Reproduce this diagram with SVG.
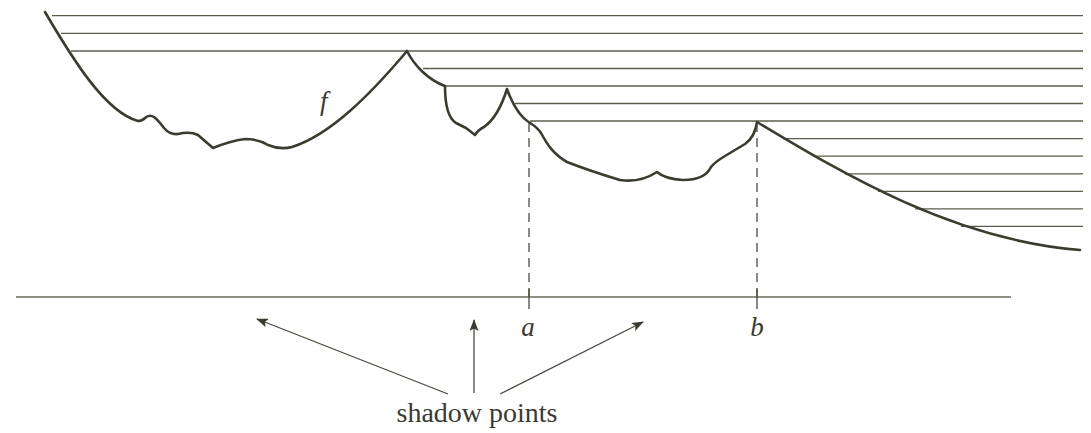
<svg xmlns="http://www.w3.org/2000/svg" width="1091" height="433" viewBox="0 0 1091 433">
<style>
.hatch{stroke:#5c5c4e;stroke-width:1.3;fill:none}
.curve{stroke:#3b3b2f;stroke-width:2.6;fill:none;stroke-linejoin:round;stroke-linecap:round}
.dash{stroke:#4a4a3e;stroke-width:1.3;stroke-dasharray:9 6;fill:none}
.axis{stroke:#6a6a5c;stroke-width:1.6;fill:none}
.tick{stroke:#4a4a3e;stroke-width:1.3}
.arrow{stroke:#4a4a3e;stroke-width:1.3;fill:none;marker-end:url(#ah)}
.lbl{font-family:"Liberation Serif","DejaVu Serif",serif;font-style:italic;fill:#3a3a30}
.cap{font-family:"Liberation Serif","DejaVu Serif",serif;fill:#3a3a30}
</style>
<defs>
<marker id="ah" viewBox="0 0 12 9" refX="11" refY="4.5" markerWidth="12" markerHeight="9" markerUnits="userSpaceOnUse" orient="auto">
<path d="M0,0 L12,4.5 L0,9 L2.5,4.5 Z" fill="#3b3b2f"/>
</marker>
</defs>
<g id="hatching">
<line class="hatch" x1="52" y1="15.7" x2="1083" y2="15.7"/>
<line class="hatch" x1="61" y1="33.3" x2="1083" y2="33.3"/>
<line class="hatch" x1="71" y1="51" x2="1083" y2="51"/>
<line class="hatch" x1="423" y1="68.5" x2="1083" y2="68.5"/>
<line class="hatch" x1="445" y1="86" x2="1083" y2="86"/>
<line class="hatch" x1="515" y1="103.5" x2="1083" y2="103.5"/>
<line class="hatch" x1="530" y1="121" x2="1083" y2="121"/>
<line class="hatch" x1="783" y1="138.7" x2="1083" y2="138.7"/>
<line class="hatch" x1="813" y1="156.2" x2="1083" y2="156.2"/>
<line class="hatch" x1="845" y1="173.8" x2="1083" y2="173.8"/>
<line class="hatch" x1="878" y1="191.3" x2="1083" y2="191.3"/>
<line class="hatch" x1="915" y1="208.8" x2="1083" y2="208.8"/>
<line class="hatch" x1="961" y1="226.3" x2="1083" y2="226.3"/>
</g>
<g id="function-f">
<path class="curve" d="M45,12 C72,58 105,112 138,121 Q142,121 145,118 Q149,114 154,117 Q158,120 164,128 Q170,135 178,134 Q190,131 198,135 L213,148 Q230,141 245,139 Q258,139 268,145 Q280,150 292,147 C330,135 370,95 407,51 C414,65 428,80 445,86 C445,105 448,118 456,123 Q462,126 466,128 Q470,131 475,135 Q478,130 484,127 C494,120 502,105 507,89 C512,103 520,117 530,123 Q537,127 541,133 C547,144 553,154 567,162 Q590,171 620,180 Q640,183 657,172 Q665,179 683,180 Q705,180 711,167 Q715,162 725,156 L745,144 Q755,137 757,122 C845,175 955,240 1080,250"/>
<text class="lbl" x="320" y="110" font-size="27">f</text>
</g>
<g id="axis">
<line class="axis" x1="16" y1="297" x2="1011" y2="297"/>
<line class="tick" x1="529" y1="289" x2="529" y2="309"/>
<line class="tick" x1="757" y1="289" x2="757" y2="309"/>
</g>
<g id="connectors">
<line class="dash" x1="529" y1="123" x2="529" y2="297"/>
<line class="dash" x1="757" y1="123" x2="757" y2="297"/>
<line class="arrow" x1="448" y1="394" x2="257" y2="319"/>
<line class="arrow" x1="474" y1="393" x2="474" y2="320"/>
<line class="arrow" x1="500" y1="394" x2="643" y2="322"/>
</g>
<g id="label-a"><text class="lbl" x="528" y="336" font-size="27" text-anchor="middle">a</text></g>
<g id="label-b"><text class="lbl" x="757" y="336" font-size="27" text-anchor="middle">b</text></g>
<g id="label-shadow"><text class="cap" x="477" y="422" font-size="28" text-anchor="middle">shadow points</text></g>
</svg>
